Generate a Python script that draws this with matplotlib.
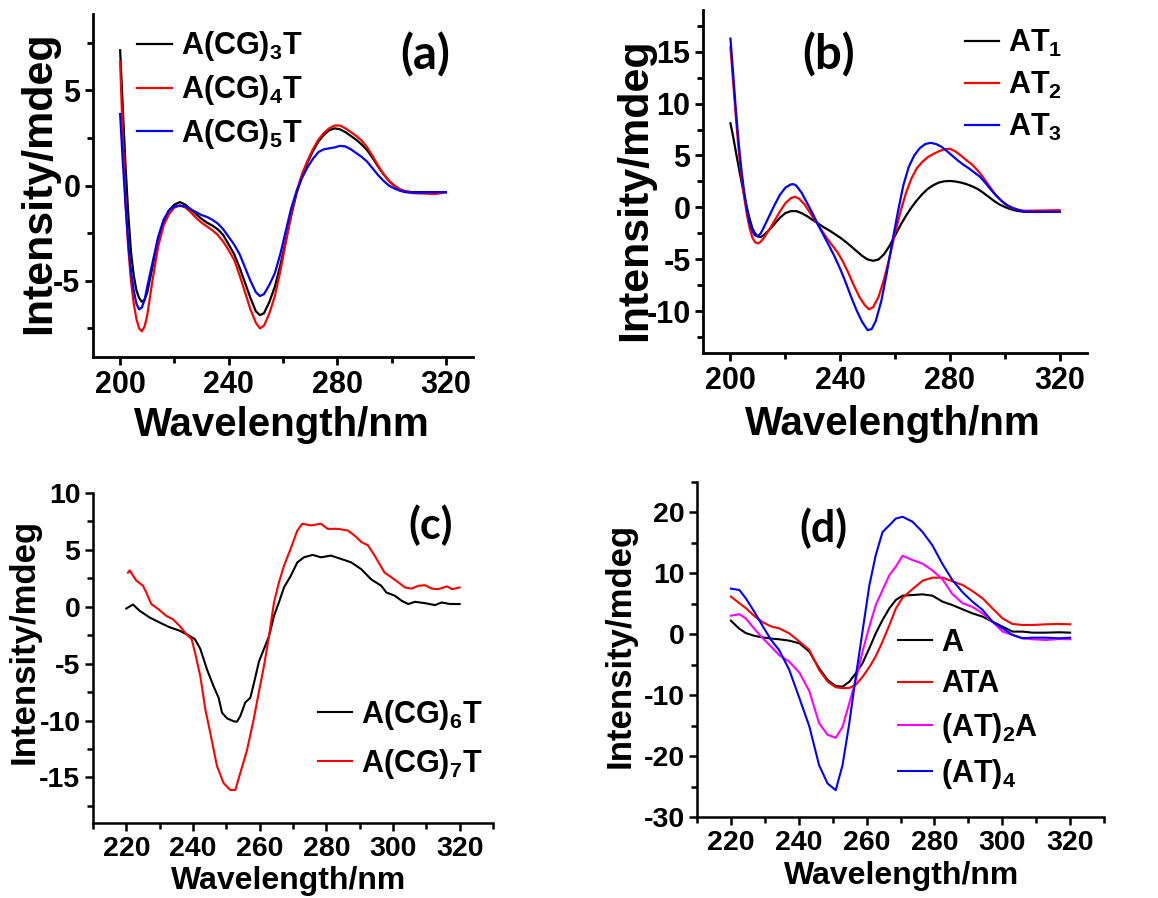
import matplotlib
matplotlib.use("Agg")
import matplotlib.pyplot as plt
from matplotlib.ticker import MultipleLocator

plt.rcParams['font.family'] = ['Liberation Sans', 'DejaVu Sans']
plt.rcParams['font.weight'] = 'bold'
plt.rcParams['mathtext.default'] = 'regular'
plt.rcParams['axes.unicode_minus'] = False

# ---------------- Panel (a) ----------------
a_wl = [200, 201, 202, 203, 204, 205, 206, 207, 208, 209, 210, 212, 214, 216, 218, 220, 222, 224,
        226, 228, 230, 232, 234, 236, 238, 240, 242, 244, 246, 248, 250, 251.5, 253, 255, 257, 259,
        261, 263, 265, 267, 269, 271, 273, 275, 277, 279, 281, 283, 285, 287, 289, 291, 293, 295,
        297, 299, 301, 303, 305, 308, 312, 316, 320]
a_cg3 = [7.1, 4.0, 1.0, -1.5, -3.5, -4.7, -5.5, -5.9, -6.1, -6.0, -5.6, -4.2, -2.8, -1.9, -1.3, -1.0,
         -0.87, -1.0, -1.25, -1.5, -1.75, -1.95, -2.1, -2.3, -2.6, -3.1, -3.6, -4.3, -5.1, -5.9, -6.6,
         -6.8, -6.7, -6.1, -5.3, -4.2, -2.9, -1.6, -0.4, 0.5, 1.2, 1.8, 2.3, 2.65, 2.9, 3.0, 2.95, 2.8,
         2.6, 2.4, 2.15, 1.85, 1.45, 1.0, 0.6, 0.25, 0.0, -0.2, -0.3, -0.35, -0.35, -0.35, -0.35]
a_cg4 = [6.5, 2.5, -1.0, -3.3, -5.0, -6.2, -7.0, -7.5, -7.65, -7.4, -6.8, -4.9, -3.2, -2.1, -1.5, -1.15,
         -1.05, -1.15, -1.4, -1.7, -1.95, -2.15, -2.35, -2.6, -2.95, -3.4, -3.9, -4.7, -5.6, -6.5, -7.2,
         -7.5, -7.35, -6.7, -5.8, -4.5, -3.0, -1.5, -0.3, 0.6, 1.3, 1.9, 2.4, 2.75, 3.0, 3.15, 3.15, 3.0,
         2.8, 2.6, 2.35, 2.0, 1.55, 1.05, 0.6, 0.25, 0.0, -0.2, -0.32, -0.4, -0.42, -0.45, -0.35]
a_cg5 = [3.75, 1.2, -1.0, -3.0, -4.5, -5.5, -6.2, -6.5, -6.4, -6.0, -5.3, -4.0, -2.7, -1.8, -1.3, -1.1,
         -1.05, -1.1, -1.25, -1.4, -1.55, -1.65, -1.8, -2.0, -2.3, -2.7, -3.1, -3.6, -4.3, -5.0, -5.6,
         -5.8, -5.7, -5.2, -4.6, -3.6, -2.4, -1.2, -0.3, 0.4, 0.95, 1.4, 1.75, 1.9, 1.95, 2.0, 2.08, 2.05,
         1.9, 1.7, 1.5, 1.25, 0.9, 0.55, 0.25, 0.0, -0.15, -0.27, -0.35, -0.37, -0.37, -0.35, -0.35]

# ---------------- Panel (b) ----------------
b_wl1 = [200, 201, 202, 203, 204, 205, 206, 207, 208, 209, 210, 211, 212, 214, 216, 218, 220, 222,
         224, 226, 228, 230, 232, 234, 236, 238, 240, 242, 244, 246, 248, 250, 252, 254, 256, 258,
         260, 262, 264, 266, 268, 270, 272, 274, 276, 278, 280, 282, 284, 286, 288, 290, 292, 294,
         296, 298, 300, 302, 304, 306, 308, 312, 316, 320]
b_at1 = [8.1, 6.8, 5.3, 3.9, 2.5, 1.2, 0.0, -1.1, -2.0, -2.5, -2.8, -2.85, -2.7, -2.2, -1.6, -1.0,
         -0.55, -0.35, -0.35, -0.55, -0.85, -1.2, -1.55, -1.9, -2.2, -2.55, -2.9, -3.3, -3.75, -4.2,
         -4.65, -5.0, -5.13, -5.0, -4.5, -3.7, -2.7, -1.7, -0.8, 0.0, 0.7, 1.3, 1.8, 2.15, 2.4, 2.52,
         2.55, 2.5, 2.4, 2.25, 2.05, 1.8, 1.45, 1.05, 0.65, 0.3, 0.05, -0.15, -0.3, -0.38, -0.42,
         -0.42, -0.42, -0.42]
b_wl2 = [200, 201, 202, 203, 204, 205, 206, 207, 208, 209, 210, 211, 212, 214, 216, 218, 220, 222,
         223.5, 225, 227, 229, 231, 233, 235, 237, 239, 241, 243, 245, 247, 249, 250.5, 252, 254,
         256, 258, 260, 262, 264, 266, 268, 270, 272, 274, 276, 278, 280, 282, 284, 286, 288, 290,
         292, 294, 296, 298, 300, 302, 304, 306, 308, 312, 316, 320]
b_at2 = [15.4, 12.0, 8.6, 5.5, 3.0, 1.0, -0.7, -2.0, -2.9, -3.35, -3.46, -3.3, -3.0, -2.2, -1.3,
         -0.4, 0.4, 0.9, 1.03, 0.85, 0.3, -0.5, -1.3, -2.1, -2.9, -3.6, -4.3, -5.2, -6.3, -7.5, -8.6,
         -9.4, -9.8, -9.6, -8.6, -6.9, -4.8, -2.5, -0.4, 1.4, 2.8, 3.8, 4.4, 4.85, 5.15, 5.4, 5.6,
         5.65, 5.4, 5.0, 4.55, 4.15, 3.6, 2.95, 2.2, 1.45, 0.85, 0.35, 0.0, -0.15, -0.28, -0.32,
         -0.3, -0.28, -0.26]
b_wl3 = [200, 201, 202, 203, 204, 205, 206, 207, 208, 209, 210, 211, 212, 214, 216, 218, 220, 222,
         223, 224, 226, 228, 230, 232, 234, 236, 238, 240, 242, 244, 246, 248, 250, 251.5, 253, 255,
         257, 259, 261, 263, 265, 267, 269, 271, 273, 275, 277, 279, 281, 283, 285, 287, 289, 291,
         293, 295, 297, 299, 301, 303, 305, 307, 310, 315, 320]
b_at3 = [16.25, 12.8, 9.3, 6.2, 3.6, 1.5, -0.2, -1.5, -2.3, -2.7, -2.76, -2.5, -2.0, -0.9, 0.2, 1.2,
         1.9, 2.22, 2.24, 2.1, 1.4, 0.4, -0.6, -1.7, -2.7, -3.7, -4.74, -5.9, -7.2, -8.6, -9.9, -11.0,
         -11.8, -11.7, -10.9, -9.0, -6.3, -3.3, -0.5, 2.1, 3.9, 5.0, 5.7, 6.1, 6.22, 6.1, 5.83, 5.4,
         4.95, 4.5, 4.1, 3.75, 3.35, 2.95, 2.35, 1.7, 1.1, 0.6, 0.2, -0.05, -0.25, -0.38, -0.42,
         -0.42, -0.42]

# ---------------- Panel (c) ----------------
c_wl = [220, 222, 224, 227, 230, 233, 236, 239, 240.6, 242.2, 244.2, 246.2, 247.7, 248.7, 250.2,
        252.2, 253.2, 254.2, 255.7, 257.2, 258.3, 259.8, 261.3, 262.8, 264.3, 265.8, 267.3, 269.3,
        271.3, 273.3, 275.9, 278.4, 281.4, 284.5, 287.5, 290.5, 293.5, 296.5, 298, 300.6, 302.6,
        304.6, 306.6, 309.6, 312.6, 314.6, 317, 320]
c_cg6 = [-0.15, 0.2, -0.35, -0.94, -1.38, -1.8, -2.1, -2.56, -2.85, -3.7, -5.5, -7.0, -8.0, -9.3, -9.8,
         -10.06, -10.1, -9.6, -8.4, -8.0, -6.7, -4.8, -3.7, -2.6, -0.8, 0.4, 1.7, 2.7,
         3.9, 4.35, 4.56, 4.35, 4.5, 4.2, 3.9, 3.3, 2.4, 1.85, 1.26, 0.97, 0.53,
         0.24, 0.44, 0.32, 0.15, 0.38, 0.25, 0.24]
c_wl7 = [220.5, 221, 223, 225, 226, 227.5, 229.6, 232, 234, 236, 238, 239.6, 240.6, 242.2, 243.7,
         245.2, 247.2, 249.2, 251.2, 252.7, 254.2, 256.2, 258.2, 259.7, 261.3, 262.8, 264.3, 265.8,
         267.3, 269.3, 271.3, 272.8, 275.4, 278.4, 280.4, 283.4, 286.5, 288.5, 290.5, 292.5, 294.5,
         297.5, 299.5, 301.6, 303.6, 305.6, 307.6, 309.6, 311.6, 313.6, 316.2, 317.7, 320]
c_cg7 = [3.0, 3.2, 2.3, 1.85, 1.26, 0.24, -0.2, -0.8, -1.1, -1.68, -2.4, -2.85, -4.0, -6.1, -9.0,
         -11.1, -14.0, -15.5, -16.1, -16.1, -14.6, -12.6, -9.9, -7.6, -5.2, -2.6, 0.38, 2.15,
         3.6, 5.1, 6.7, 7.3, 7.15, 7.3, 6.85, 6.85, 6.7, 6.26, 5.7, 5.4, 4.5,
         3.0, 2.6, 2.15, 1.7, 1.6, 1.85, 1.9, 1.6, 1.55, 1.8, 1.55, 1.7]

# ---------------- Panel (d) ----------------
d_wl = [220, 222.5, 224.4, 226.9, 229.3, 231.8, 234.2, 237.2, 240.2, 243.1, 246, 248.5, 250.9, 252.9,
        254.9, 256.8, 258.8, 260.8, 262.7, 264.7, 266.7, 268.6, 270.6, 273.5, 276.5, 279.4, 282.4,
        285.3, 288.3, 291.2, 294.2, 297.1, 300.1, 303, 306, 308.9, 312.8, 316.8, 320]
d_a = [2.24, 0.9, 0.2, -0.25, -0.5, -0.7, -0.82, -1.04, -1.48, -2.84, -5.57, -7.5, -8.5, -8.6,
       -7.8, -6.4, -4.75, -2.3, 0.16, 2.35, 4.26, 5.63, 6.34, 6.45, 6.56, 6.34, 5.36,
       4.8, 4.1, 3.44, 2.9, 2.07, 1.26, 0.44, 0.44, 0.27, 0.27, 0.33, 0.27]
d_ata = [6.2, 5.1, 4.3, 3.0, 2.0, 1.3, 0.98, 0.16, -1.2, -2.57, -5.85, -7.76, -8.7, -8.85,
         -8.8, -8.3, -7.0, -5.4, -3.6, -1.2, 1.5, 4.2, 6.0, 7.4, 8.8, 9.3, 9.3,
         8.7, 8.1, 7.1, 5.9, 4.26, 2.6, 1.7, 1.53, 1.53, 1.64, 1.7, 1.64]
d_at2a = [3.06, 3.3, 2.6, 0.9, -0.6, -2.0, -3.4, -4.5, -6.3, -9.3, -14.6, -16.5, -17.0, -15.2,
          -11.3, -7.5, -2.84, 1.26, 4.8, 7.27, 9.7, 11.1, 12.9, 12.2, 11.6, 10.5, 9.0,
          6.6, 5.1, 4.5, 3.44, 2.07, 0.44, -0.1, -0.66, -0.82, -0.93, -0.77, -0.82]
d_at4 = [7.5, 7.27, 5.9, 3.7, 1.4, -0.9, -2.57, -5.85, -10.5, -15.1, -21.5, -24.5, -25.6, -21.5,
         -14.6, -7.0, 0.5, 8.0, 13.0, 16.8, 17.9, 19.0, 19.3, 18.5, 16.8, 14.6, 11.5,
         8.9, 6.9, 5.36, 4.0, 2.07, 0.98, -0.1, -0.66, -0.55, -0.55, -0.66, -0.55]

C_BLACK, C_RED, C_BLUE, C_MAG = '#000000', '#ff0000', '#0000ff', '#ff00ff'

fig = plt.figure(figsize=(11.58, 8.98), dpi=100)


def style_axes(ax, spine_lw, tick_fs, xmaj, xmin, ymaj, ymin):
    for s in ['top', 'right']:
        ax.spines[s].set_visible(False)
    for s in ['left', 'bottom']:
        ax.spines[s].set_linewidth(spine_lw)
    ax.xaxis.set_major_locator(MultipleLocator(xmaj))
    ax.xaxis.set_minor_locator(MultipleLocator(xmin))
    ax.yaxis.set_major_locator(MultipleLocator(ymaj))
    ax.yaxis.set_minor_locator(MultipleLocator(ymin))
    ax.tick_params(which='major', direction='out', length=6, width=spine_lw,
                   labelsize=tick_fs, pad=3)
    ax.tick_params(which='minor', direction='out', length=4, width=spine_lw)
    for lab in ax.get_xticklabels() + ax.get_yticklabels():
        lab.set_fontweight('bold')


LETTER_FONT = ['Lato', 'DejaVu Sans']

# (a)
axA = fig.add_axes([0.0803, 0.6024, 0.3282, 0.382])
axA.plot(a_wl, a_cg3, color=C_BLACK, lw=1.6, label='A(CG)$_{3}$T')
axA.plot(a_wl, a_cg4, color=C_RED, lw=1.6, label='A(CG)$_{4}$T')
axA.plot(a_wl, a_cg5, color=C_BLUE, lw=1.6, label='A(CG)$_{5}$T')
axA.set_xlim(190, 330)
axA.set_ylim(-9, 9)
style_axes(axA, 2.0, 22, 40, 20, 5, 2.5)
axA.set_xlabel('Wavelength/nm', fontsize=29, fontweight='bold', va='center')
axA.xaxis.set_label_coords(0.497, -0.198)
axA.set_ylabel('Intensity/mdeg', fontsize=31, fontweight='bold', va='center')
axA.yaxis.set_label_coords(-0.142, 0.507)
axA.text(0.874, 0.88, '(a)', transform=axA.transAxes, fontsize=34, fontweight='bold',
         family=LETTER_FONT, ha='center', va='center')
axA.legend(loc='upper left', bbox_to_anchor=(0.116, 0.955), frameon=False,
           handlelength=1.15, handletextpad=0.3, labelspacing=0.32, borderaxespad=0, borderpad=0,
           prop={'weight': 'bold', 'size': 22})

# (b)
axB = fig.add_axes([0.6071, 0.6069, 0.3316, 0.382])
axB.plot(b_wl1, b_at1, color=C_BLACK, lw=1.6, label='AT$_{1}$')
axB.plot(b_wl2, b_at2, color=C_RED, lw=1.6, label='AT$_{2}$')
axB.plot(b_wl3, b_at3, color=C_BLUE, lw=1.6, label='AT$_{3}$')
axB.set_xlim(190, 330)
axB.set_ylim(-14, 19)
style_axes(axB, 2.0, 22, 40, 20, 5, 2.5)
axB.set_xlabel('Wavelength/nm', fontsize=29, fontweight='bold', va='center')
axB.xaxis.set_label_coords(0.495, -0.207)
axB.set_ylabel('Intensity/mdeg', fontsize=31, fontweight='bold', va='center')
axB.yaxis.set_label_coords(-0.177, 0.475)
axB.text(0.326, 0.869, '(b)', transform=axB.transAxes, fontsize=34, fontweight='bold',
         family=LETTER_FONT, ha='center', va='center')
axB.legend(loc='upper left', bbox_to_anchor=(0.682, 0.948), frameon=False,
           handlelength=1.1, handletextpad=0.3, labelspacing=0.36, borderaxespad=0, borderpad=0,
           prop={'weight': 'bold', 'size': 22})

# (c)
axC = fig.add_axes([0.0803, 0.0835, 0.3454, 0.3675])
axC.plot(c_wl, c_cg6, color=C_BLACK, lw=1.5, label='A(CG)$_{6}$T')
axC.plot(c_wl7, c_cg7, color=C_RED, lw=1.5, label='A(CG)$_{7}$T')
axC.set_xlim(210, 330)
axC.set_ylim(-19, 10)
style_axes(axC, 1.8, 20.5, 20, 10, 5, 2.5)
axC.set_xlabel('Wavelength/nm', fontsize=23, fontweight='bold', va='center')
axC.xaxis.set_label_coords(0.49, -0.175)
axC.set_ylabel('Intensity/mdeg', fontsize=25, fontweight='bold', va='center')
axC.yaxis.set_label_coords(-0.172, 0.55)
axC.text(0.843, 0.903, '(c)', transform=axC.transAxes, fontsize=31, fontweight='bold',
         family=LETTER_FONT, ha='center', va='center')
axC.legend(loc='upper left', bbox_to_anchor=(0.5625, 0.38), frameon=False,
           handlelength=1.1, handletextpad=0.3, labelspacing=0.5, borderaxespad=0, borderpad=0,
           prop={'weight': 'bold', 'size': 22})

# (d)
axD = fig.add_axes([0.6019, 0.0902, 0.3515, 0.373])
axD.plot(d_wl, d_a, color=C_BLACK, lw=1.5, label='A')
axD.plot(d_wl, d_ata, color=C_RED, lw=1.5, label='ATA')
axD.plot(d_wl, d_at2a, color=C_MAG, lw=1.5, label='(AT)$_{2}$A')
axD.plot(d_wl, d_at4, color=C_BLUE, lw=1.5, label='(AT)$_{4}$')
axD.set_xlim(210, 330)
axD.set_ylim(-30, 25)
style_axes(axD, 1.8, 20.5, 20, 10, 10, 5)
axD.set_xlabel('Wavelength/nm', fontsize=23, fontweight='bold', va='center')
axD.xaxis.set_label_coords(0.502, -0.175)
axD.set_ylabel('Intensity/mdeg', fontsize=25, fontweight='bold', va='center')
axD.yaxis.set_label_coords(-0.19, 0.513)
axD.text(0.31, 0.863, '(d)', transform=axD.transAxes, fontsize=31, fontweight='bold',
         family=LETTER_FONT, ha='center', va='center')
axD.legend(loc='upper left', bbox_to_anchor=(0.495, 0.565), frameon=False,
           handlelength=1.1, handletextpad=0.3, labelspacing=0.38, borderaxespad=0, borderpad=0,
           prop={'weight': 'bold', 'size': 22})

fig.savefig('out.png', dpi=100)
